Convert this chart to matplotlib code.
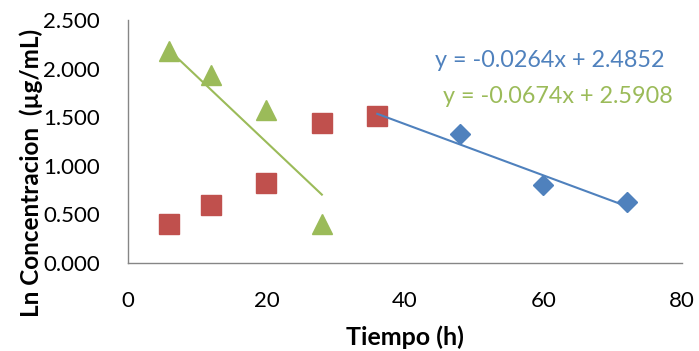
import numpy as np
import matplotlib.pyplot as plt

plt.rcParams['font.family'] = ['Lato', 'DejaVu Sans']

# Data
t_red = [6, 12, 20, 28, 36]
ln_red = [0.40, 0.60, 0.82, 1.44, 1.51]

t_green = [6, 12, 20, 28]
ln_green = [2.18, 1.93, 1.57, 0.40]

t_blue = [36, 48, 60, 72]
ln_blue = [1.51, 1.33, 0.80, 0.63]

# Trendline coefficients as shown on the chart
blue_fit = (-0.0264, 2.4852)
green_fit = (-0.0674, 2.5908)

c_red = '#C0504D'
c_green = '#9BBB59'
c_blue = '#4F81BD'

fig = plt.figure(figsize=(6.99, 3.51), dpi=100)
ax = fig.add_axes([0.183, 0.2507, 0.7927, 0.6923])

ax.plot(t_blue, ln_blue, 'D', color=c_blue, markersize=10, zorder=3)
ax.plot(t_red, ln_red, 's', color=c_red, markersize=14, zorder=4)
ax.plot(t_green, ln_green, '^', color=c_green, markersize=15, zorder=3)

xb = np.array([t_blue[0], t_blue[-1]])
ax.plot(xb, blue_fit[0] * xb + blue_fit[1], color=c_blue, lw=1.5, zorder=5)
xg = np.array([t_green[0], t_green[-1]])
ax.plot(xg, green_fit[0] * xg + green_fit[1], color=c_green, lw=1.5, zorder=5)

ax.text(0.555, 0.835, 'y = -0.0264x + 2.4852', transform=ax.transAxes,
        color=c_blue, fontsize=16.8, va='center')
ax.text(0.568, 0.685, 'y = -0.0674x + 2.5908', transform=ax.transAxes,
        color=c_green, fontsize=16.8, va='center')

ax.set_xlim(0, 80)
ax.set_ylim(0, 2.5)
ax.set_xticks([0, 20, 40, 60, 80])
ax.set_yticks(np.arange(0, 2.51, 0.5))
ax.set_yticklabels(['%.3f' % v for v in np.arange(0, 2.51, 0.5)])
ax.tick_params(length=0, labelsize=16, pad=20)

for s in ['top', 'right']:
    ax.spines[s].set_visible(False)
for s in ['left', 'bottom']:
    ax.spines[s].set_color('#868686')
    ax.spines[s].set_linewidth(1)

ax.set_xlabel('Tiempo (h)', fontsize=18, fontweight='bold')
ax.set_ylabel('Ln Concentracion  (µg/mL)', fontsize=17.5, fontweight='bold')
ax.xaxis.set_label_coords(0.5, -0.255)
ax.yaxis.set_label_coords(-0.153, 0.37)

fig.savefig('out.png', dpi=100)
